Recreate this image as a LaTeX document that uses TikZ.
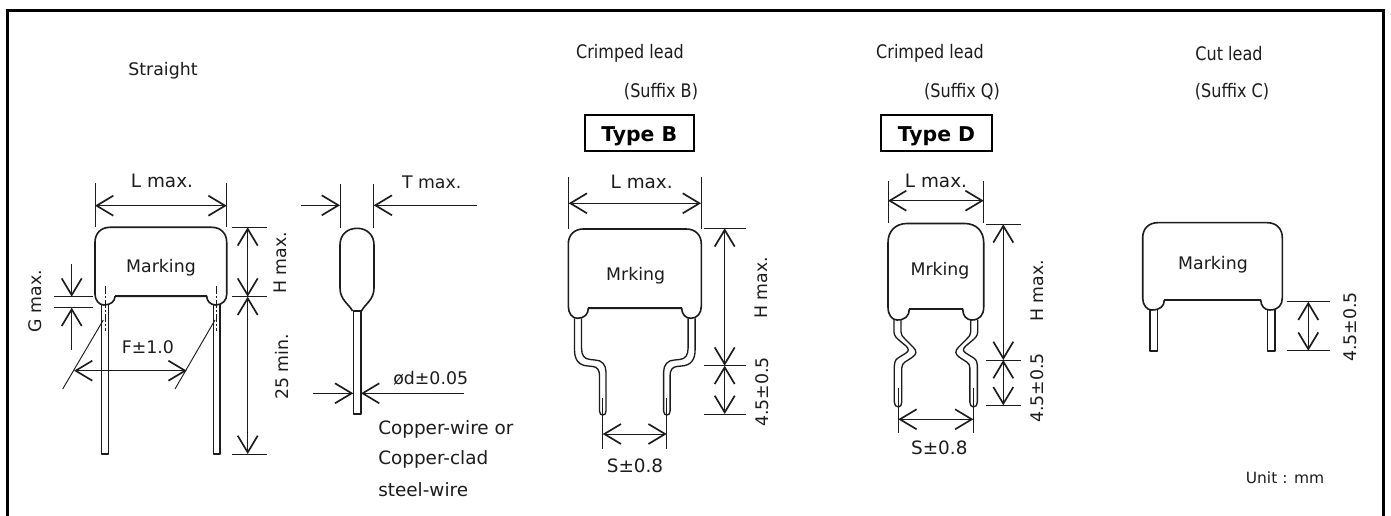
\documentclass[tikz,border=0pt]{standalone}
\usepackage{fontspec}
\setmainfont{DejaVu Sans}
\newfontfamily\headfont[FakeStretch=0.86]{DejaVu Sans}
\usetikzlibrary{arrows.meta}
\definecolor{ink}{HTML}{1C1C1C}
\tikzset{
  body/.style={draw=ink,line width=1.2pt,line join=round},
  leadline/.style={draw=ink,line width=1pt,line join=round},
  flatline/.style={draw=ink,line width=1.7pt},
  thinline/.style={draw=ink,line width=0.7pt},
  center/.style={draw=ink,line width=0.5pt,dash pattern=on 6pt off 1.5pt on 1.5pt off 1.5pt},
  dimline/.style={draw=ink,line width=0.7pt,
    >={Straight Barb[length=12.5pt,width=15pt,line width=1.25pt]}},
  lab/.style={text=ink,inner sep=0pt,font=\fontsize{13}{15}\selectfont},
  wide/.style={text=ink,inner sep=0pt,font=\fontsize{13.8}{15}\selectfont},
  head/.style={text=ink,inner sep=0pt,font=\headfont\fontsize{14}{15}\selectfont},
  small/.style={text=ink,inner sep=0pt,font=\fontsize{11.6}{14}\selectfont},
  typebox/.style={draw=black,line width=1.5pt,inner sep=0pt,text height=13.5pt,text depth=0pt,
    font=\bfseries\fontsize{15.3}{17}\selectfont,text=black},
  frameline/.style={draw=black,line width=2.25pt,line cap=butt,line join=miter}
}
% L R top flat bottom innerL innerR radius
\newcommand{\capbody}[8]{%
  \draw[body] (#6,#4) -- (#7,#4)
    .. controls (#7,#5-4) and (#7+4,#5) .. (#7+9,#5)
    .. controls (#2-4,#5) and (#2,#5-5) .. (#2,#4-2)
    -- (#2,#3+#8)
    .. controls (#2,#3+0.4*#8) and (#2-0.4*#8,#3) .. (#2-#8,#3)
    -- (#1+#8,#3)
    .. controls (#1+0.4*#8,#3) and (#1,#3+0.4*#8) .. (#1,#3+#8)
    -- (#1,#4-2)
    .. controls (#1,#5-5) and (#1+4,#5) .. (#1+9,#5)
    .. controls (#6-4,#5) and (#6,#5-4) .. (#6,#4);
  \draw[flatline] (#6,#4) -- (#7,#4);
}
\newcommand{\leadB}{%
  \draw[leadline] (574.5,318.5) -- (574.5,350) .. controls (574.5,360) and (579,365.5) .. (588,366)
    -- (593,366.5) .. controls (597,367) and (599.5,370) .. (599.5,375) -- (599.5,411)
    .. controls (599.5,414) and (601,415) .. (602.7,415)
    .. controls (604.5,415) and (606,414) .. (606,411) -- (606,372)
    .. controls (606,365) and (602,360) .. (595,360) -- (590,359.5)
    .. controls (584,359) and (581.5,355) .. (581.5,348) -- (581.5,318.5);
  \draw[thinline] (602.7,398) -- (602.7,449);
}
\newcommand{\leadD}{%
  \draw[leadline] (894,320) -- (894,332) .. controls (894,336) and (897,338.5) .. (900,341)
    -- (906,346) .. controls (909,349) and (909,351) .. (906,353)
    -- (898,358) .. controls (895,360) and (894.3,363) .. (894.3,366) -- (894.3,402)
    .. controls (894.3,405) and (896,407) .. (898.3,407)
    .. controls (900.5,407) and (901.8,405) .. (901.8,402) -- (901.8,368)
    .. controls (901.8,365) and (903,363.5) .. (905,362)
    -- (912,357.5) .. controls (917,354) and (917,351) .. (913,347)
    -- (905,339) .. controls (902.5,336.5) and (901,335) .. (901,332) -- (901,320);
  \draw[thinline] (898.3,388) -- (898.3,433);
}
\begin{document}
\begin{tikzpicture}[x=0.75pt,y=-0.75pt]
\useasboundingbox (0,0) rectangle (1391,516);
\fill[white] (0,0) rectangle (1391,516);
% frame
\draw[frameline] (7.5,516) -- (7.5,10.5) -- (1383.5,10.5) -- (1383.5,516);

% ---------- Straight ----------
\node[lab] (tStraight) at (163,71) {Straight};
\draw[leadline] (101.7,305) -- (101.7,454) -- (108.3,454) -- (108.3,305);
\draw[leadline] (213.3,305) -- (213.3,454) -- (220,454) -- (220,305);
\capbody{95}{226.7}{227.3}{296.3}{305}{115}{206.7}{15}
\node[lab] (mk1) at (161,267.5) {Marking};
\draw[center] (105,286) -- (105,331);
\draw[center] (216.7,286) -- (216.7,331);
\draw[thinline] (95,183) -- (95,227);
\draw[thinline] (226.7,183) -- (226.7,227);
\draw[dimline,<->] (95,205.7) -- (226.7,205.7);
\node[wide] (lmax1) at (162,181) {L max.};
\draw[thinline] (232,227.3) -- (266.7,227.3);
\draw[thinline] (232,296.7) -- (266.7,296.7);
\draw[thinline] (232,454) -- (266.7,454);
\draw[dimline,<->] (247.7,227.3) -- (247.7,296.7);
\draw[dimline,<->] (247.7,296.7) -- (247.7,454);
\node[lab,rotate=90] (hmax1) at (280,263) {H max.};
\node[lab,rotate=90] (min25) at (282,367) {25 min.};
\draw[thinline] (54,296.7) -- (92.7,296.7);
\draw[thinline] (54,307.7) -- (92.7,307.7);
\draw[dimline,->] (71.7,264) -- (71.7,296.7);
\draw[dimline,->] (71.7,350) -- (71.7,307.7);
\node[lab,rotate=90] (gmax) at (35,301) {G max.};
\node[lab] (f10) at (148,347) {F±1.0};
\draw[dimline,<->] (74,370.7) -- (186.7,370.7);
\draw[thinline] (62.7,389) -- (103.3,320);
\draw[thinline] (175,389) -- (215,320);

% ---------- side view ----------
\draw[leadline] (353.3,311) -- (353.3,414) -- (361,414) -- (361,311) -- cycle;
\draw[body] (352.5,311) .. controls (349,304) and (340,300) .. (340,288) -- (340,245)
  .. controls (340,235) and (347,228.3) .. (357,228.3)
  .. controls (367,228.3) and (374,235) .. (374,245) -- (374,288)
  .. controls (374,300) and (365,304) .. (361.5,311);
\draw[thinline] (340,184) -- (340,228);
\draw[thinline] (373.7,184) -- (373.7,228);
\draw[dimline,->] (301,205.3) -- (340,205.3);
\draw[dimline,->] (476.7,205.3) -- (373.7,205.3);
\node[lab] (tmax) at (431.7,182.5) {T max.};
\draw[dimline,->] (313,393.3) -- (353.3,393.3);
\draw[dimline,->] (464,393.3) -- (361,393.3);
\node[lab] (dia) at (430.7,378) {ød±0.05};
\node[wide,anchor=west] (cu1) at (378,429) {Copper-wire or};
\node[wide,anchor=west] (cu2) at (378,459) {Copper-clad};
\node[wide,anchor=west] (cu3) at (378,490) {steel-wire};

% ---------- Type B ----------
\node[head] (t2a) at (630,53.5) {Crimped lead};
\node[head] (t2b) at (661,91.5) {(Suffix B)};
\node[typebox,minimum width=81.75pt,minimum height=27pt] (typeB) at (639.2,132.7) {Type B};
\leadB
\begin{scope}[cm={-1,0,0,1,(1269.6,0)}]\leadB\end{scope}
\capbody{568.3}{701.3}{229}{308.3}{318.3}{588.3}{681.7}{15}
\node[lab] (mk2) at (635.7,275.5) {Mrking};
\draw[thinline] (568.7,177.3) -- (568.7,229);
\draw[thinline] (701,177.3) -- (701,229);
\draw[dimline,<->] (568.7,203.3) -- (701,203.3);
\node[wide] (lmax2) at (641.7,181.7) {L max.};
\draw[thinline] (704,228.3) -- (746,228.3);
\draw[thinline] (704,365.7) -- (746,365.7);
\draw[thinline] (704,414) -- (746,414);
\draw[dimline,<->] (724.7,228.3) -- (724.7,365.7);
\draw[dimline,<->] (724.7,365.7) -- (724.7,414);
\node[lab,rotate=90] (hmax2) at (761.7,288) {H max.};
\node[lab,rotate=90] (d2) at (761.7,392) {4.5±0.5};
\draw[dimline,<->] (602.7,434) -- (666.7,434);
\node[wide] (s2) at (635,466) {S±0.8};

% ---------- Type D ----------
\node[head] (t3a) at (930,53.5) {Crimped lead};
\node[head] (t3b) at (962,91.5) {(Suffix Q)};
\node[typebox,minimum width=82.8pt,minimum height=27pt] (typeD) at (936.5,132.7) {Type D};
\leadD
\begin{scope}[cm={-1,0,0,1,(1871.7,0)}]\leadD\end{scope}
\capbody{888}{983.7}{223.5}{309}{320}{909.3}{962.7}{19}
\node[lab] (mk3) at (940,270.8) {Mrking};
\draw[thinline] (888,181) -- (888,223);
\draw[thinline] (983.7,181) -- (983.7,223);
\draw[dimline,<->] (888,200.7) -- (983.7,200.7);
\node[wide] (lmax3) at (936,181) {L max.};
\draw[thinline] (986,224.3) -- (1020.7,224.3);
\draw[thinline] (986,360) -- (1020.7,360);
\draw[thinline] (986,405.3) -- (1020.7,405.3);
\draw[dimline,<->] (1003.3,224.3) -- (1003.3,360);
\draw[dimline,<->] (1003.3,360) -- (1003.3,405.3);
\node[lab,rotate=90] (hmax3) at (1037.3,291) {H max.};
\node[lab,rotate=90] (d3) at (1037.3,388) {4.5±0.5};
\draw[dimline,<->] (898.3,419.3) -- (973.4,419.3);
\node[wide] (s3) at (939.3,448.3) {S±0.8};

% ---------- Cut lead ----------
\node[head] (t4a) at (1229,53.5) {Cut lead};
\node[head] (t4b) at (1232,91.5) {(Suffix C)};
\draw[leadline] (1150,310) -- (1150,351) -- (1157.3,351) -- (1157.3,310);
\draw[leadline] (1267.7,310) -- (1267.7,351) -- (1275,351) -- (1275,310);
\capbody{1142.7}{1282.3}{222.7}{300}{310}{1164.3}{1260.7}{15}
\node[lab] (mk4) at (1213,264.8) {Marking};
\draw[thinline] (1286.7,301.7) -- (1330,301.7);
\draw[thinline] (1286.7,350.7) -- (1330,350.7);
\draw[dimline,<->] (1308.3,301.7) -- (1308.3,350.7);
\node[lab,rotate=90] (d4) at (1350,327) {4.5±0.5};
\node[small] (unit) at (1285,477.5) {Unit : mm};
\end{tikzpicture}
\end{document}
